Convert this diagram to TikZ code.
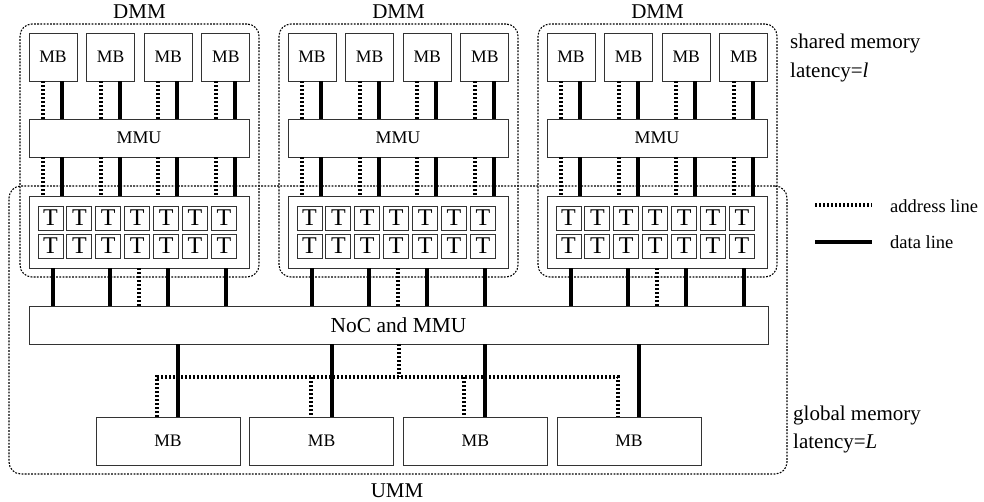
\documentclass[tikz,border=0pt]{standalone}
\usepackage{fontspec}
\setmainfont{Liberation Serif}
\usetikzlibrary{calc}
\begin{document}
\begin{tikzpicture}[x=1pt,y=-1pt,
  box/.style={draw=black!80, line width=0.9pt, fill=white, inner sep=0pt, outer sep=0pt, anchor=north west},
  mbtop/.style={box, minimum width=48pt, minimum height=48pt, font=\fontsize{17.6}{20}\selectfont},
  mmubox/.style={box, minimum width=220pt, minimum height=38pt, font=\fontsize{17.9}{20}\selectfont},
  tbox/.style={box, minimum width=220pt, minimum height=72pt},
  tcell/.style={box, minimum width=25pt, minimum height=24pt, font=\fontsize{24}{26}\selectfont},
  nocbox/.style={box, minimum width=739pt, minimum height=38pt, font=\fontsize{21.4}{24}\selectfont},
  gmb/.style={box, minimum width=144pt, minimum height=48pt, font=\fontsize{17.6}{20}\selectfont},
  container/.style={draw=black, line width=1.1pt, dash pattern=on 1.8pt off 1.4pt, rounded corners=12pt, inner sep=0pt, outer sep=0pt, anchor=north west},
  addr/.style={line width=4pt, dash pattern=on 2.4pt off 1.6pt},
  data/.style={line width=4pt},
  lbl/.style={font=\fontsize{21}{24}\selectfont, inner sep=0pt},
  legtxt/.style={font=\fontsize{18.5}{22}\selectfont, inner sep=0pt, anchor=base west}
]
\useasboundingbox (0,0) rectangle (984,501);
% global container
\node[container, minimum width=778pt, minimum height=288pt] (umm) at (9,186) {};
\node[lbl, anchor=base] at (397,497) {UMM};
% NoC
\node[nocbox] (noc) at (29,306) {NoC and MMU};
% DMMs
\foreach \d in {0,1,2}{
  \pgfmathsetmacro\ox{259*\d}
  \node[container, minimum width=239pt, minimum height=253pt] (dmm\d) at ({20+\ox},24) {};
  \node[lbl, anchor=base] at ({139.5+\ox},18) {DMM};
  \node[mmubox] (mmu\d) at ({29+\ox},119) {MMU};
  \node[tbox] (tb\d) at ({29+\ox},196) {};
  \foreach \k in {0,...,6}{
    \pgfmathsetmacro\cx{38+\ox+28.9*\k}
    \node[tcell] (ca\d\k) at (\cx,206) {T};
    \node[tcell] (cb\d\k) at (\cx,234) {T};
  }
  \foreach \j in {0,...,3}{
    \pgfmathsetmacro\mx{29+\ox+57.6*\j}
    \node[mbtop] (mb\d\j) at (\mx,33) {MB};
    \coordinate (ad\d\j) at ($(mb\d\j.south west)+(14,0)$);
    \coordinate (dd\d\j) at ($(mb\d\j.south west)+(33,0)$);
    \draw[addr] (ad\d\j) -- (ad\d\j |- mmu\d.north);
    \draw[data] (dd\d\j) -- (dd\d\j |- mmu\d.north);
    \draw[addr] (ad\d\j |- mmu\d.south) -- (ad\d\j |- tb\d.north);
    \draw[data] (dd\d\j |- mmu\d.south) -- (dd\d\j |- tb\d.north);
  }
  \foreach \o [count=\i] in {24,81,139,197}{
    \coordinate (bd\d\i) at ($(tb\d.south west)+(\o,0)$);
    \draw[data] (bd\d\i) -- (bd\d\i |- noc.north);
  }
  \coordinate (ba\d) at ($(tb\d.south west)+(110,0)$);
  \draw[addr] (ba\d) -- (ba\d |- noc.north);
}
% global memory blocks
\coordinate (bus) at (398,377);
\foreach \k in {0,...,3}{
  \pgfmathsetmacro\gx{96+153.67*\k}
  \node[gmb] (gm\k) at (\gx,417) {MB};
  \coordinate (gd\k) at ($(gm\k.north west)+(82,0)$);
  \coordinate (ga\k) at ($(gm\k.north west)+(61,0)$);
  \draw[data] (gd\k |- noc.south) -- (gd\k);
}
\draw[addr] (noc.south) -- (noc.south |- bus);
\draw[addr] (ga0) -- (ga0 |- bus) -- (ga3 |- bus) -- (ga3);
\draw[addr] (ga1 |- bus) -- (ga1);
\draw[addr] (ga2 |- bus) -- (ga2);
% side texts
\node[lbl, anchor=base west] (sm1) at (790,48) {shared memory};
\node[lbl, anchor=base west] (sm2) at (790,77) {latency=\textit{l}};
\node[lbl, anchor=base west] (gm1) at (793,420) {global memory};
\node[lbl, anchor=base west] (gm2) at (793,448) {latency=\textit{L}};
% legend
\coordinate (la1) at (815,205);
\coordinate (la2) at (872,205);
\coordinate (ld1) at (815,242);
\coordinate (ld2) at (872,242);
\draw[addr] (la1) -- (la2);
\draw[data] (ld1) -- (ld2);
\node[legtxt] (lt1) at (890,212) {address line};
\node[legtxt] (lt2) at (890,248) {data line};
\end{tikzpicture}
\end{document}
